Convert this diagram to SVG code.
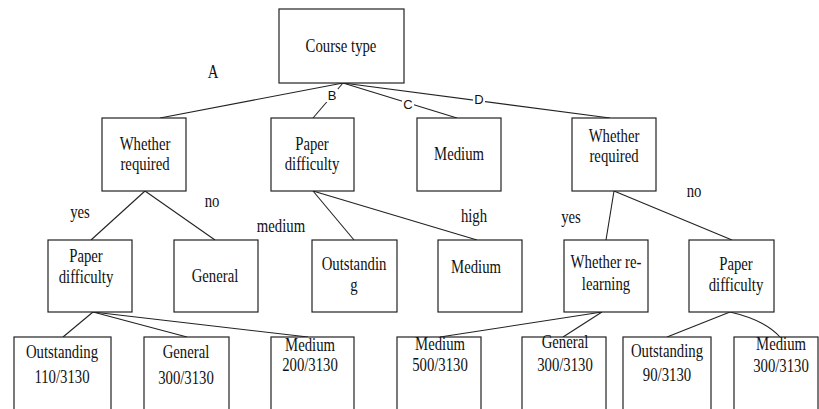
<svg xmlns="http://www.w3.org/2000/svg" width="819" height="409" viewBox="0 0 819 409">
<style>
.box{fill:#fff;stroke:#222;stroke-width:1.2}
.t{font-family:'Liberation Serif','DejaVu Serif',serif;font-size:18px;fill:#111;text-anchor:middle}
.s{font-family:'Liberation Sans','DejaVu Sans',sans-serif;font-size:13px;fill:#111;text-anchor:middle}
.ln{stroke:#222;stroke-width:1.1;fill:none}
</style>
<rect width="819" height="409" fill="#fff"/>
<g id="connectors">
<line class="ln" x1="343" y1="83" x2="160" y2="118"/>
<line class="ln" x1="343" y1="83" x2="313" y2="118"/>
<line class="ln" x1="343" y1="83" x2="457" y2="118"/>
<line class="ln" x1="343" y1="83" x2="610" y2="118"/>
<line class="ln" x1="145" y1="191" x2="91" y2="240"/>
<line class="ln" x1="145" y1="191" x2="215" y2="240"/>
<line class="ln" x1="313" y1="191" x2="354" y2="240"/>
<line class="ln" x1="313" y1="191" x2="477" y2="240"/>
<line class="ln" x1="614" y1="191" x2="606" y2="240"/>
<line class="ln" x1="614" y1="191" x2="732" y2="240"/>
<line class="ln" x1="93" y1="312" x2="63" y2="337"/>
<line class="ln" x1="93" y1="312" x2="187" y2="337"/>
<line class="ln" x1="93" y1="312" x2="308" y2="337"/>
<line class="ln" x1="602" y1="312" x2="440" y2="337"/>
<line class="ln" x1="602" y1="312" x2="563" y2="337"/>
<line class="ln" x1="730" y1="312" x2="667" y2="337"/>
<path class="ln" d="M730 312 Q765 320 780 337"/>
<g id="edge-labels">
<rect x="326" y="89" width="12" height="13" fill="#fff"/>
<text class="s" font-family="Liberation Sans, sans-serif" x="332" y="100">B</text>
<rect x="402" y="98" width="12" height="13" fill="#fff"/>
<text class="s" font-family="Liberation Sans, sans-serif" x="408" y="109">C</text>
<rect x="473" y="93" width="12" height="13" fill="#fff"/>
<text class="s" font-family="Liberation Sans, sans-serif" x="479" y="104">D</text>
<g font-family="Liberation Serif, serif">
<text class="t" transform="translate(213 78) scale(0.82 1)">A</text>
<text class="t" transform="translate(80 218) scale(0.82 1)">yes</text>
<text class="t" transform="translate(212 207) scale(0.82 1)">no</text>
<text class="t" transform="translate(281 232) scale(0.82 1)">medium</text>
<text class="t" transform="translate(474 222) scale(0.82 1)">high</text>
<text class="t" transform="translate(571 223) scale(0.82 1)">yes</text>
<text class="t" transform="translate(694 197) scale(0.82 1)">no</text>
</g>
</g>
</g>
<g id="nodes" font-family="Liberation Serif, serif">
<g id="n-root"><rect class="box" x="279" y="9" width="125" height="74"/><text class="t" transform="translate(341 52) scale(0.82 1)">Course type</text></g>
<g id="n-req1"><rect class="box" x="102" y="118" width="84" height="73"/><text class="t" transform="translate(145 150) scale(0.82 1)">Whether</text><text class="t" transform="translate(145 170) scale(0.82 1)">required</text></g>
<g id="n-pd1"><rect class="box" x="271" y="118" width="83" height="73"/><text class="t" transform="translate(312 150) scale(0.82 1)">Paper</text><text class="t" transform="translate(312 170) scale(0.82 1)">difficulty</text></g>
<g id="n-med1"><rect class="box" x="417" y="118" width="84" height="73"/><text class="t" transform="translate(459 160) scale(0.82 1)">Medium</text></g>
<g id="n-req2"><rect class="box" x="572" y="118" width="84" height="73"/><text class="t" transform="translate(614 142) scale(0.82 1)">Whether</text><text class="t" transform="translate(614 162) scale(0.82 1)">required</text></g>
<g id="n-pd2"><rect class="box" x="48" y="240" width="84" height="72"/><text class="t" transform="translate(86 262) scale(0.82 1)">Paper</text><text class="t" transform="translate(86 283) scale(0.82 1)">difficulty</text></g>
<g id="n-gen1"><rect class="box" x="174" y="240" width="84" height="72"/><text class="t" transform="translate(215 282) scale(0.82 1)">General</text></g>
<g id="n-out1"><rect class="box" x="312" y="240" width="85" height="72"/><text class="t" transform="translate(354 270) scale(0.82 1)">Outstandin</text><text class="t" transform="translate(354 291) scale(0.82 1)">g</text></g>
<g id="n-med2"><rect class="box" x="438" y="240" width="84" height="72"/><text class="t" transform="translate(476 273) scale(0.82 1)">Medium</text></g>
<g id="n-rel"><rect class="box" x="564" y="240" width="84" height="72"/><text class="t" transform="translate(606 268) scale(0.82 1)">Whether re-</text><text class="t" transform="translate(606 290) scale(0.82 1)">learning</text></g>
<g id="n-pd3"><rect class="box" x="689" y="240" width="85" height="72"/><text class="t" transform="translate(736 270) scale(0.82 1)">Paper</text><text class="t" transform="translate(736 291) scale(0.82 1)">difficulty</text></g>
<g id="n-l1"><rect class="box" x="14" y="337" width="97" height="80"/><text class="t" transform="translate(62 358) scale(0.82 1)">Outstanding</text><text class="t" transform="translate(62 383) scale(0.82 1)">110/3130</text></g>
<g id="n-l2"><rect class="box" x="144" y="337" width="85" height="80"/><text class="t" transform="translate(186 358) scale(0.82 1)">General</text><text class="t" transform="translate(186 384) scale(0.82 1)">300/3130</text></g>
<g id="n-l3"><rect class="box" x="271" y="337" width="83" height="80"/><text class="t" transform="translate(310 351) scale(0.82 1)">Medium</text><text class="t" transform="translate(310 371) scale(0.82 1)">200/3130</text></g>
<g id="n-l4"><rect class="box" x="397" y="337" width="84" height="80"/><text class="t" transform="translate(440 350) scale(0.82 1)">Medium</text><text class="t" transform="translate(440 371) scale(0.82 1)">500/3130</text></g>
<g id="n-l5"><rect class="box" x="522" y="337" width="84" height="80"/><text class="t" transform="translate(565 348) scale(0.82 1)">General</text><text class="t" transform="translate(565 371) scale(0.82 1)">300/3130</text></g>
<g id="n-l6"><rect class="box" x="623" y="337" width="88" height="80"/><text class="t" transform="translate(667 357) scale(0.82 1)">Outstanding</text><text class="t" transform="translate(667 381) scale(0.82 1)">90/3130</text></g>
<g id="n-l7"><rect class="box" x="734" y="337" width="84" height="80"/><text class="t" transform="translate(781 350) scale(0.82 1)">Medium</text><text class="t" transform="translate(781 372) scale(0.82 1)">300/3130</text></g>
</g>
</svg>
